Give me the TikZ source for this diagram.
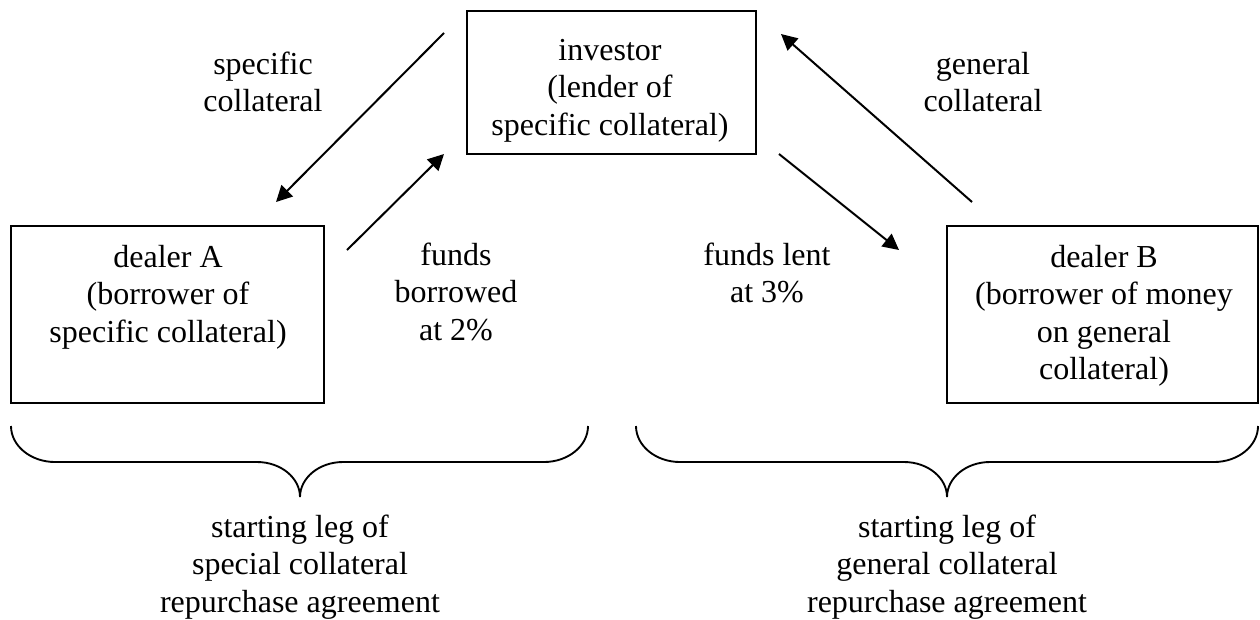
\documentclass[tikz,border=0pt]{standalone}
\usepackage{fontspec}
\setmainfont{Liberation Serif}
\usetikzlibrary{arrows.meta}
\tikzset{
panel/.style 2 args={draw,line width=0.75pt,minimum width=#1*0.375pt,minimum height=#2*0.375pt,inner sep=0pt},
txt/.style={align=center,anchor=base,inner sep=0pt,font=\fontsize{12}{14.06}\selectfont},
flow/.style={line width=0.75pt,-{Triangle[length=6pt,width=6pt]}},
brace/.style={line width=0.7pt}
}
\begin{document}
\begin{tikzpicture}[x=0.375pt,y=-0.375pt]
\useasboundingbox (0,0) rectangle (1260,619);
\node[panel={289}{143}](inv) at (611.5,82.5){};
\node[panel={313}{177}](dlrA) at (167.5,314.5){};
\node[panel={311}{177}](dlrB) at (1102.5,314.5){};
\node[txt](invtxt) at (610,135){investor\\(lender of\\specific collateral)};
\node[txt](dlrAtxt) at (168,342){dealer A\\(borrower of\\specific collateral)};
\node[txt](dlrBtxt) at (1104,379.5){dealer B\\(borrower of money\\on general\\collateral)};
\node[txt](lblsc) at (263,111.5){specific\\collateral};
\node[txt](lblgc) at (983,111.5){general\\collateral};
\node[txt](lblfb) at (456,340){funds\\borrowed\\at 2\%};
\node[txt](lblfl) at (767,302.5){funds lent\\at 3\%};
\node[txt](legA) at (300,612){starting leg of\\special collateral\\repurchase agreement};
\node[txt](legB) at (947,612){starting leg of\\general collateral\\repurchase agreement};
\coordinate(sc1) at (444,33);\coordinate(sc2) at (276,202);
\coordinate(fb1) at (347,250);\coordinate(fb2) at (444,154);
\coordinate(fl1) at (779,154);\coordinate(fl2) at (899,250);
\coordinate(gc1) at (972,202);\coordinate(gc2) at (781,34);
\foreach \s/\e in {sc1/sc2,fb1/fb2,fl1/fl2,gc1/gc2}{\draw[flow](\s)--(\e);}
\foreach \l/\m/\r in {11/300/588,636/947/1258}{\draw[brace](\l,426)..controls(\l,446)and(\l+20,462)..(\l+44,462)--(\m-43,462)..controls(\m-19,462)and(\m,478)..(\m,497)..controls(\m,478)and(\m+19,462)..(\m+43,462)--(\r-44,462)..controls(\r-20,462)and(\r,446)..(\r,426);}
\end{tikzpicture}
\end{document}
